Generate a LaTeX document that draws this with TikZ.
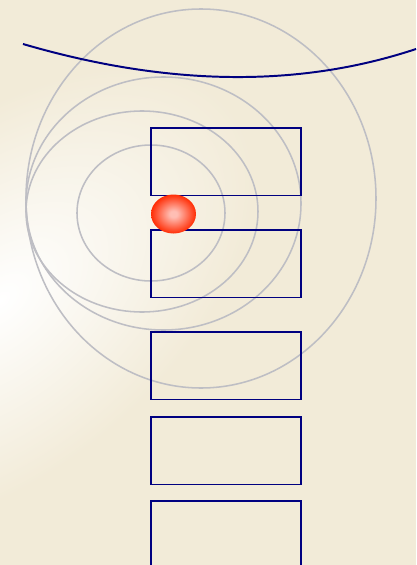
\documentclass[tikz,border=0pt]{standalone}
\definecolor{paper}{RGB}{242,235,216}
\definecolor{ripplegray}{RGB}{190,190,196}
\definecolor{wallblue}{RGB}{0,0,128}
\definecolor{sparkred}{RGB}{255,45,5}
\definecolor{sparkpink}{RGB}{255,190,180}
\pgfdeclareradialshading{sparkglow}{\pgfpoint{0bp}{0bp}}{color(0bp)=(sparkpink); color(4bp)=(sparkpink); color(25bp)=(sparkred); color(50bp)=(sparkred)}

\begin{document}
\begin{tikzpicture}[x=0.025cm, y=-0.025cm,
	ripple/.style={draw=ripplegray, line width=1.1pt},
	slab/.style={draw=wallblue, line width=1.4pt}]
	% backdrop with a soft light on the left
	\fill[paper] (0,0) rectangle (416,565);
	\begin{scope}
		\clip (0,0) rectangle (416,565);
		\begin{scope}[transform canvas={shift={(0,300)}, rotate=40}]
			\shade[inner color=white, outer color=paper] (0,0) ellipse [x radius=300, y radius=170];
		\end{scope}
	\end{scope}
	\useasboundingbox (0,0) rectangle (416,565);
	% ripples
	\draw[ripple] (201,198.5) ellipse [x radius=175, y radius=189.5];
	\draw[ripple] (163.5,203.5) ellipse [x radius=137.5, y radius=126.5];
	\draw[ripple] (142,211.5) ellipse [x radius=116, y radius=100.5];
	\draw[ripple] (151,213) ellipse [x radius=74, y radius=68];
	% boundary
	\draw[wallblue, line width=1.4pt] (23,44) .. controls (167.7,86.3) and (298.7,88) .. (416,49);
	% slabs
	\foreach \t in {128,230,332,417,501} {\draw[slab] (151,\t) rectangle (301,\t+67.5);}
	% source
	\shade[shading=sparkglow] (173.5,214) ellipse [x radius=22.5, y radius=19.5];
\end{tikzpicture}
\end{document}
